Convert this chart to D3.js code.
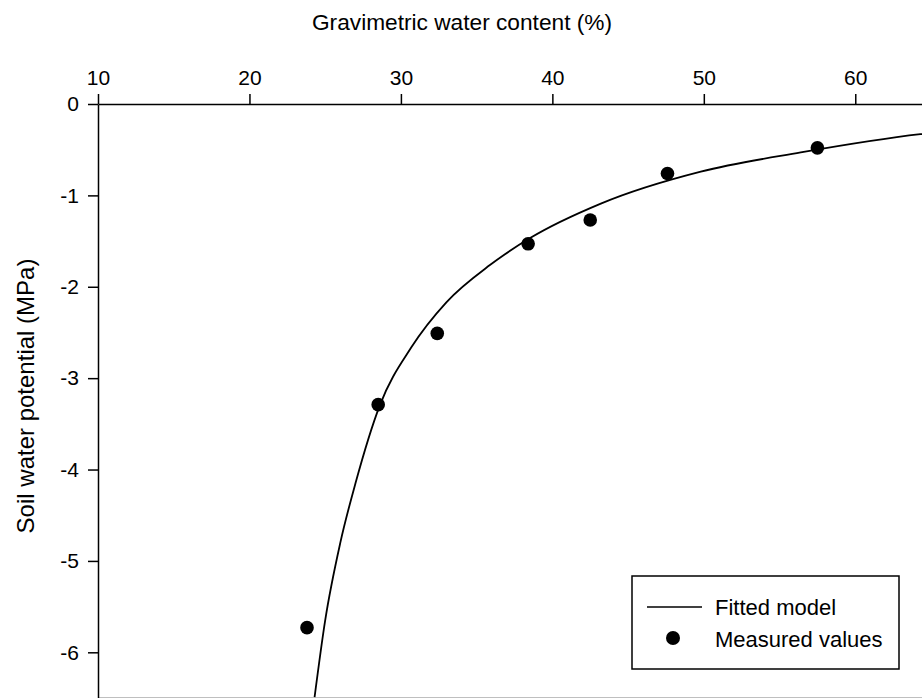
<!DOCTYPE html>
<html lang="en">
<head>
  <meta charset="UTF-8" />
  <title>Soil water retention</title>
  <style>
    body {
      margin: 0;
      background: #fff;
      font-family: Arial, "Liberation Sans", sans-serif;
    }
    svg {
      display: block;
      overflow: hidden;
    }
    .axis text {
      font-size: 21px;
      fill: #000;
    }
    .axis path, .axis line {
      stroke: #000;
      stroke-width: 1.5px;
    }
  </style>
</head>
<body>
  <div id="chart"></div>

  <script src="https://d3js.org/d3.v7.min.js"></script>
  <script>
    // Measured values (water content %, potential MPa)
    const measuredWater = [23.8, 28.5, 32.4, 38.4, 42.5, 47.6, 57.5];
    const measuredPotential = [-5.73, -3.29, -2.51, -1.53, -1.27, -0.76, -0.48];

    // Fitted model
    const fittedWater = [24.3, 25.0, 26.0, 27.0, 28.6, 30.7, 33.0, 35.9, 38.5, 43.2, 49.8, 56.4, 64.3, 66];
    const fittedPotential = [-6.49, -5.65, -4.80, -4.15, -3.30, -2.66, -2.17, -1.76, -1.47, -1.09, -0.74, -0.53, -0.33, -0.30];

    const xTicks = [10, 20, 30, 40, 50, 60];
    const yTicks = [0, -1, -2, -3, -4, -5, -6];

    const W = 922, H = 698;
    const margin = { top: 104, left: 98 };
    const width = 833;    // plot runs past the right edge of the picture
    const height = 594;

    const svg = d3.select("#chart")
      .append("svg")
      .attr("width", W)
      .attr("height", H);

    const g = svg.append("g")
      .attr("transform", `translate(${margin.left},${margin.top})`);

    const x = d3.scaleLinear().domain([10, 65]).range([0, width]);
    const y = d3.scaleLinear().domain([-6.5, 0]).range([height, 0]);

    // Top axis
    g.append("g")
      .attr("class", "axis")
      .call(d3.axisTop(x).tickValues(xTicks).tickSize(10).tickSizeOuter(0).tickPadding(9));

    // Bottom axis (cut off by the picture edge)
    g.append("g")
      .attr("class", "axis")
      .attr("transform", `translate(0,${height})`)
      .call(d3.axisBottom(x).tickValues(xTicks).tickSize(10).tickSizeOuter(0).tickFormat(""));

    // Left axis
    g.append("g")
      .attr("class", "axis")
      .call(d3.axisLeft(y).tickValues(yTicks).tickSize(10).tickSizeOuter(0).tickPadding(9)
        .tickFormat(d => String(d)));

    // Right axis (off the picture)
    g.append("g")
      .attr("class", "axis")
      .attr("transform", `translate(${width},0)`)
      .call(d3.axisRight(y).tickValues(yTicks).tickSize(10).tickSizeOuter(0).tickFormat(""));

    // Fitted curve
    const fitted = fittedWater.map((w, i) => ({ w, p: fittedPotential[i] }));
    g.append("path")
      .datum(fitted)
      .attr("fill", "none")
      .attr("stroke", "#000")
      .attr("stroke-width", 1.8)
      .attr("d", d3.line()
        .x(d => x(d.w))
        .y(d => y(d.p))
        .curve(d3.curveMonotoneX));

    // Measured points
    const measured = measuredWater.map((w, i) => ({ w, p: measuredPotential[i] }));
    g.selectAll("circle.pt")
      .data(measured)
      .enter()
      .append("circle")
      .attr("class", "pt")
      .attr("cx", d => x(d.w))
      .attr("cy", d => y(d.p))
      .attr("r", 6.8)
      .attr("fill", "#000");

    // Axis titles
    svg.append("text")
      .attr("x", 462)
      .attr("y", 30)
      .attr("text-anchor", "middle")
      .style("font-size", "22.7px")
      .text("Gravimetric water content (%)");

    svg.append("text")
      .attr("transform", "translate(34,396) rotate(-90)")
      .attr("text-anchor", "middle")
      .style("font-size", "24px")
      .text("Soil water potential (MPa)");

    // Legend
    const legend = svg.append("g").attr("transform", "translate(632,576)");
    legend.append("rect")
      .attr("width", 267)
      .attr("height", 93)
      .attr("fill", "#fff")
      .attr("stroke", "#000")
      .attr("stroke-width", 1.5);
    legend.append("line")
      .attr("x1", 15).attr("x2", 70)
      .attr("y1", 31).attr("y2", 31)
      .attr("stroke", "#000")
      .attr("stroke-width", 1.5);
    legend.append("circle")
      .attr("cx", 41).attr("cy", 62).attr("r", 7)
      .attr("fill", "#000");
    legend.append("text")
      .attr("x", 83).attr("y", 39)
      .style("font-size", "22px")
      .text("Fitted model");
    legend.append("text")
      .attr("x", 83).attr("y", 71)
      .style("font-size", "22px")
      .text("Measured values");
  </script>
</body>
</html>
